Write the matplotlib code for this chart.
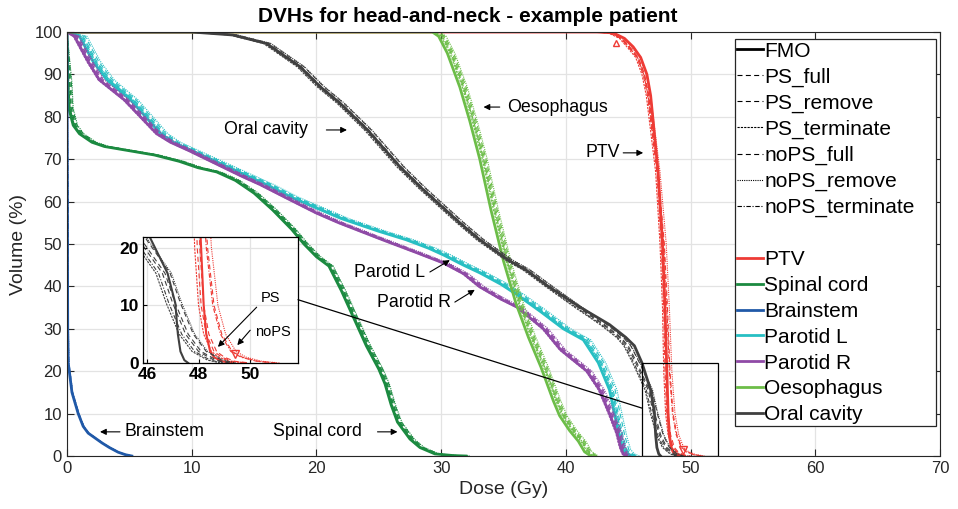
import matplotlib
matplotlib.use("Agg")
import matplotlib.pyplot as plt
import numpy as np
from matplotlib.lines import Line2D
from matplotlib.patches import Rectangle, ConnectionPatch

plt.rcParams["font.family"] = ["Liberation Sans", "DejaVu Sans"]

# plans compared against the FMO reference
plans = ["PS_full", "PS_remove", "PS_terminate", "noPS_full", "noPS_remove", "noPS_terminate"]
plan_ls = [(0, (4.5, 3)), (0, (4.5, 3)), (0, (2, 1)), (0, (4.5, 3)), (0, (1, 1)), (0, (4, 1.5, 1, 1.5))]

# DVH data: dose (Gy) at given volume levels (%)
ptv_vol = [100, 100, 99.8, 98.5, 96.5, 94, 90, 85, 79, 73, 67, 50, 35, 20, 10, 5, 2, 1, 0.3, 0]
ptv_fmo = [0, 42.5, 43.8, 44.7, 45.4, 46.0, 46.5, 46.8, 47.0, 47.2, 47.4, 47.75, 47.95, 48.1,
           48.2, 48.3, 48.45, 48.6, 48.9, 49.3]
ptv_ps = [0, 42.3, 43.5, 44.4, 45.0, 45.7, 46.2, 46.55, 46.8, 47.05, 47.3, 47.65, 47.85, 47.95,
          48.1, 48.3, 48.6, 48.9, 49.3, 49.9]
ptv_nops = [0, 42.3, 43.5, 44.5, 45.1, 45.8, 46.3, 46.65, 46.9, 47.15, 47.4, 47.9, 48.15, 48.35,
            48.6, 48.9, 49.3, 49.7, 50.3, 51.0]
ptv_shift = [0.0, 0.1, -0.1, 0.0, 0.15, -0.05]

spinal_vol = [100, 88, 82, 78, 76, 74, 73, 72, 71, 69.5, 68, 67, 65, 62, 58, 53.5, 50, 47,
              44.8, 39, 32.5, 26, 20.5, 17, 12, 8, 4, 2, 0.5, 0.1, 0]
spinal_fmo = [0, 0.05, 0.15, 0.5, 1, 2, 3, 5, 7, 9, 10.5, 12, 13.5, 15, 16.5, 18, 19, 20,
              21, 22, 23, 24, 25, 25.5, 26, 26.5, 27.5, 28.3, 29.5, 31, 32]
spinal_shift = [0.15, 0.3, 0.05, 0.2, 0.35, 0.1]

brain_vol = [100, 60, 30, 22, 15, 10, 7, 5.4, 3.1, 2, 0.9, 0.3, 0]
brain_fmo = [0, 0.03, 0.06, 0.1, 0.4, 0.9, 1.3, 1.7, 2.8, 3.4, 4.1, 4.7, 5.2]
brain_shift = [0.02, 0.05, 0.0, 0.03, 0.06, 0.01]

parl_vol = [100, 99, 93, 88.7, 84, 80, 76, 74, 72, 70, 68, 66, 64, 61, 58.5, 56, 53, 51, 49,
            47.4, 45, 43.2, 40.5, 38, 34, 30, 27.4, 22, 15.6, 10, 4.5, 1.5, 0.5, 0]
parl_fmo = [0, 1.0, 2.1, 3.2, 5.1, 6.3, 7.5, 8.5, 10, 11.5, 13, 14.5, 16, 18, 20, 22, 25, 27.2,
            29, 30.2, 31.8, 33.1, 34.8, 36.1, 38, 39.8, 41.4, 42.6, 43.5, 43.9, 44.3, 44.6, 44.9, 45.3]
parl_shift = [0.2, 0.45, 0.1, 0.3, 0.6, 0.2]

parr_vol = [100, 99, 93, 88.7, 84, 80, 76, 74, 72, 70, 68, 66, 64, 61, 57.3, 55, 51, 48, 45.5,
            43, 39.9, 37, 35.1, 30, 25, 20, 15.6, 10, 5.4, 2, 0.5, 0]
parr_fmo = [0, 0.6, 1.7, 2.6, 4.6, 5.9, 7.2, 8.3, 9.8, 11.2, 12.6, 14, 15.5, 17.5, 20, 21.8, 25.3,
            28, 30.2, 31.8, 33.1, 34.8, 36.1, 38.2, 39.6, 41.7, 42.7, 43.5, 44.1, 44.4, 44.6, 44.8]
parr_shift = [0.15, 0.3, -0.1, 0.2, 0.4, 0.05]

oes_vol = [100, 100, 99, 95, 87, 79, 70, 58, 46, 36, 28, 21, 13, 9.5, 6, 3.5, 1, 0]
oes_fmo = [0, 29.3, 29.8, 30.5, 31.5, 32.3, 33.1, 34, 35, 36, 37, 38, 39, 39.5, 40.3, 41, 41.5, 42]
oes_shift = [0.3, 0.5, 0.2, 0.4, 0.6, 0.3]

oral_vol = [100, 100, 99.3, 97.3, 91.8, 87.1, 83.2, 76.9, 68.2, 63, 59, 55, 51, 46.2, 43.9,
            40, 35, 31, 28, 26, 22, 15.6, 10.4, 5, 2, 0.5, 0]
oral_fmo = [0, 10, 13.3, 16, 18.7, 20.3, 21.9, 24.1, 26.7, 28.5, 30, 31.5, 33.1, 35.4, 36.8,
            38.6, 41.2, 43.5, 44.8, 45.5, 46.1, 46.8, 47.1, 47.2, 47.3, 47.45, 47.6]
oral_plan = [0, 10, 13.3, 16, 18.7, 20.3, 21.9, 24.1, 26.7, 28.5, 30, 31.5, 33.1, 35.4, 36.8,
             38.6, 41.0, 43.0, 44.3, 44.9, 45.6, 46.6, 47.0, 47.5, 48.0, 48.6, 49.1]
oral_shift = [0.0, 0.3, -0.25, 0.1, 0.35, -0.15]

names = ["PTV", "Spinal cord", "Brainstem", "Parotid L", "Parotid R", "Oesophagus", "Oral cavity"]
colors = ["#ee3b35", "#1b8a40", "#2059a8", "#27bfc3", "#8f4aa6", "#6cbd48", "#404040"]

structs = [
    (ptv_vol, ptv_fmo, ptv_ps, ptv_nops, ptv_shift),
    (spinal_vol, spinal_fmo, spinal_fmo, spinal_fmo, spinal_shift),
    (brain_vol, brain_fmo, brain_fmo, brain_fmo, brain_shift),
    (parl_vol, parl_fmo, parl_fmo, parl_fmo, parl_shift),
    (parr_vol, parr_fmo, parr_fmo, parr_fmo, parr_shift),
    (oes_vol, oes_fmo, oes_fmo, oes_fmo, oes_shift),
    (oral_vol, oral_fmo, oral_plan, oral_plan, oral_shift),
]

# PTV dose constraints (min at top, max at tail)
con_lo = (44.0, 97.5)
con_hi = (49.4, 1.5)

TXT = "#262626"


def draw(a, lw_fmo, lw_plan):
    for color, (vol, fmo, ps, nops, shift) in zip(colors, structs):
        for k in range(len(plans)):
            d = np.array(ps if k < 3 else nops, dtype=float)
            d = np.where(d > 0, d + shift[k], 0.0)
            a.plot(d, vol, color=color, lw=lw_plan, ls=plan_ls[k])
        a.plot(fmo, vol, color=color, lw=lw_fmo)
    a.plot(*con_lo, marker="^", mfc="none", mec=colors[0], ms=5, mew=1)
    a.plot(*con_hi, marker="v", mfc="none", mec=colors[0], ms=6, mew=1)


fig = plt.figure(figsize=(9.58, 5.09), dpi=100)
ax = fig.add_axes([0.0699, 0.1041, 0.9113, 0.8330])
draw(ax, 2.0, 0.8)

ax.set_xlim(0, 70)
ax.set_ylim(0, 100)
ax.set_xticks(range(0, 71, 10))
ax.set_yticks(range(0, 101, 10))
ax.grid(color="#e3e3e3", lw=0.9)
ax.set_axisbelow(True)
ax.tick_params(direction="in", length=5, top=True, right=True, labelsize=12,
               colors=TXT, width=0.8)
for s in ax.spines.values():
    s.set_color(TXT)
    s.set_linewidth(0.8)
ax.set_xlabel("Dose (Gy)", fontsize=14, color=TXT, labelpad=4)
ax.set_ylabel("Volume (%)", fontsize=14, color=TXT, labelpad=5)
fig.text(468 / 958, 1 - 16 / 509, "DVHs for head-and-neck - example patient", fontsize=15,
         fontweight="bold", ha="center", va="center")

# structure labels with arrows
arrow = dict(arrowstyle="-|>", color="k", lw=0.8, mutation_scale=9, shrinkA=0, shrinkB=0)


def label(a, text, xy_text, tail, tip, ha="left", size=12.8):
    a.text(*xy_text, text, ha=ha, va="center", fontsize=size)
    a.annotate("", xy=tip, xytext=tail, arrowprops=arrow)


label(ax, "Oral cavity", (19.3, 76.9), (20.8, 76.9), (22.45, 76.9), ha="right")
label(ax, "Oesophagus", (35.3, 82.3), (34.7, 82.3), (33.4, 82.3))
label(ax, "PTV", (44.35, 71.5), (44.6, 71.5), (46.2, 71.5), ha="right")
label(ax, "Parotid L", (28.7, 43.2), (29.1, 43.4), (30.7, 46.2), ha="right")
label(ax, "Parotid R", (30.8, 36.1), (31.1, 36.3), (32.7, 39.2), ha="right")
label(ax, "Brainstem", (4.65, 5.7), (4.25, 5.7), (2.65, 5.7))
label(ax, "Spinal cord", (16.5, 5.7), (24.9, 5.7), (26.5, 5.7))

# legend: plan styles, a gap, then structure colours; frame drawn separately
handles = [Line2D([], [], color="k", lw=2.0, label="FMO")]
for k, p in enumerate(plans):
    handles.append(Line2D([], [], color="k", lw=0.8, ls=plan_ls[k], label=p))
handles.append(Line2D([], [], color="none", label=" "))
for n, c in zip(names, colors):
    handles.append(Line2D([], [], color=c, lw=2.0, label=n))
ax.add_patch(Rectangle((0.7652, 0.0708), 0.2302, 0.9127, transform=ax.transAxes,
                       fc="white", ec=TXT, lw=0.9, zorder=4.5))
leg = ax.legend(handles=handles, loc="upper left", bbox_to_anchor=(0.7675, 0.9775),
                borderaxespad=0, borderpad=0, fontsize=15, handlelength=1.25,
                handletextpad=0.05, labelspacing=0.33, frameon=False)
leg.set_zorder(5)

# zoom box and inset of the high-dose tail
ax.add_patch(Rectangle((46.1, 0), 6.1, 22, fill=False, ec="k", lw=0.9, zorder=5))

axins = fig.add_axes([143 / 958, 1 - 363 / 509, 155 / 958, 126 / 509])
draw(axins, 1.5, 0.8)
axins.set_xlim(45.85, 51.85)
axins.set_ylim(0, 21.9)
axins.set_xticks([46, 48, 50])
axins.set_yticks([0, 10, 20])
axins.grid(color="#e3e3e3", lw=0.9)
axins.set_axisbelow(True)
axins.tick_params(direction="in", length=3, labelsize=12.5, pad=3)
for t in axins.get_xticklabels() + axins.get_yticklabels():
    t.set_fontweight("bold")
for s in axins.spines.values():
    s.set_color("k")
    s.set_linewidth(0.9)
label(axins, "PS", (50.4, 11.3), (50.25, 9.7), (48.75, 2.8), size=10.5)
label(axins, "noPS", (50.2, 5.4), (50.0, 5.7), (49.5, 3.1), size=10.5)

con = ConnectionPatch(xyA=(51.85, 11.0), coordsA=axins.transData,
                      xyB=(46.1, 11.3), coordsB=ax.transData, color="k", lw=0.9)
fig.add_artist(con)

fig.savefig("out.png", dpi=100)
